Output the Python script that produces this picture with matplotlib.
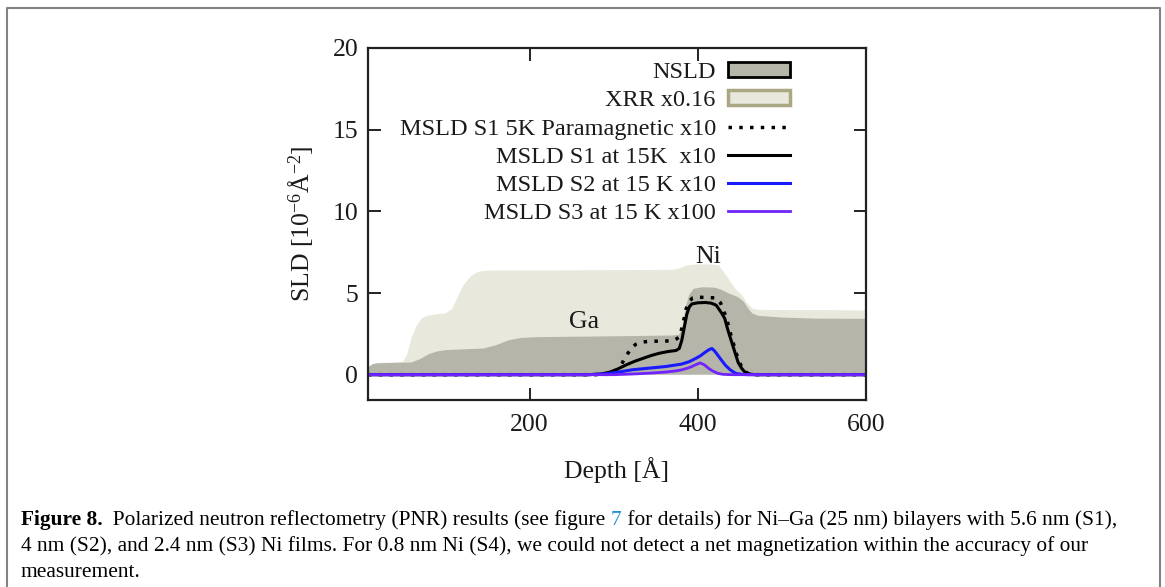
import matplotlib
matplotlib.use("Agg")
import matplotlib.pyplot as plt
from matplotlib.patches import Patch
from matplotlib.lines import Line2D

plt.rcParams['font.family'] = ['Liberation Serif', 'DejaVu Serif']
plt.rcParams['mathtext.fontset'] = 'custom'
plt.rcParams['mathtext.rm'] = 'Liberation Serif'
plt.rcParams['mathtext.it'] = 'Liberation Serif:italic'

W, H = 1165, 587

# ---------------- data ----------------
xrr_depth = [8, 14, 20, 40, 50, 55, 60, 66, 72, 78, 90, 100, 108, 115, 122, 130, 137, 145, 160,
             200, 300, 370, 378, 385, 392, 400, 415, 425, 433, 440, 445, 453, 459, 465, 472,
             520, 560, 600]
xrr_sld = [0.45, 0.65, 0.72, 0.75, 0.8, 1.3, 2.3, 3.0, 3.45, 3.6, 3.7, 3.75, 4.0, 4.8, 5.5, 6.0,
           6.25, 6.35, 6.38, 6.38, 6.4, 6.42, 6.5, 6.65, 6.72, 6.75, 6.75, 6.7, 6.15, 5.6, 5.25,
           4.85, 4.35, 4.05, 3.97, 3.95, 3.95, 3.93]

nsld_depth = [8, 14, 20, 40, 60, 70, 80, 90, 100, 120, 145, 160, 175, 190, 210, 300, 370, 378,
              382, 386, 390, 395, 405, 420, 428, 438, 448, 455, 460, 465, 472, 500, 540, 600]
nsld_sld = [0.45, 0.65, 0.7, 0.72, 0.75, 0.95, 1.25, 1.42, 1.5, 1.55, 1.6, 1.8, 2.1, 2.25, 2.3,
            2.35, 2.4, 2.45, 3.0, 4.2, 4.9, 5.25, 5.35, 5.33, 5.2, 4.95, 4.75, 4.45, 4.05, 3.75,
            3.6, 3.5, 3.43, 3.42]

para_depth = [8, 280, 295, 300, 305, 310, 315, 320, 326, 334, 345, 360, 372, 378, 382, 386, 390,
              394, 400, 410, 422, 427, 431, 435, 439, 443, 447, 451, 455, 460, 470, 600]
para_sld = [0, 0, 0.03, 0.1, 0.35, 0.7, 1.15, 1.55, 1.85, 2.0, 2.05, 2.05, 2.1, 2.3, 3.0, 4.0,
            4.5, 4.7, 4.75, 4.72, 4.7, 4.4, 3.9, 3.3, 2.5, 1.8, 1.1, 0.6, 0.25, 0.05, 0, 0]

s1_depth = [8, 270, 285, 295, 305, 315, 325, 335, 345, 355, 365, 374, 378, 381, 384, 387, 390,
            393, 400, 409, 416, 422, 428, 432, 436, 440, 444, 448, 452, 456, 462, 468, 600]
s1_sld = [0, 0, 0.04, 0.15, 0.35, 0.6, 0.82, 1.0, 1.18, 1.32, 1.42, 1.48, 1.6, 2.1, 2.9, 3.7,
          4.15, 4.33, 4.4, 4.42, 4.38, 4.25, 3.8, 3.45, 2.7, 2.05, 1.4, 0.75, 0.4, 0.16, 0.04, 0, 0]

s2_depth = [8, 270, 290, 306, 322, 342, 362, 381, 390, 397, 403, 409, 414, 417, 420, 423, 428,
            433, 439, 445, 452, 460, 600]
s2_sld = [0, 0, 0.05, 0.16, 0.3, 0.4, 0.5, 0.65, 0.8, 0.98, 1.15, 1.38, 1.55, 1.6, 1.45, 1.25,
          0.9, 0.57, 0.28, 0.08, 0.02, 0, 0]

s3_depth = [8, 300, 322, 345, 362, 375, 381, 388, 393, 398, 403, 408, 413, 418, 424, 430, 440, 600]
s3_sld = [0, 0, 0.04, 0.1, 0.16, 0.24, 0.3, 0.4, 0.5, 0.62, 0.72, 0.6, 0.38, 0.22, 0.08, 0.02, 0, 0]

x_ticks = [200, 400, 600]
y_ticks = [0, 5, 10, 15, 20]

labels = ["NSLD", "XRR x0.16", "MSLD S1 5K Paramagnetic x10", "MSLD S1 at 15K  x10",
          "MSLD S2 at 15 K x10", "MSLD S3 at 15 K x100"]

caption_line1 = [("Figure 8.", "bold", "black"),
                 ("  Polarized neutron reflectometry (PNR) results (see figure ", "normal", "black"),
                 ("7", "normal", "#1f8fd8"),
                 (" for details) for Ni\u2013Ga (25 nm) bilayers with 5.6 nm (S1),", "normal", "black")]
caption_line2 = "4 nm (S2), and 2.4 nm (S3) Ni films. For 0.8 nm Ni (S4), we could not detect a net magnetization within the accuracy of our"
caption_line3 = "measurement."

# ---------------- colours ----------------
c_nsld = '#b5b5aa'
c_xrr = '#e8e8dc'
c_xrr_edge = '#a9a883'
c_blue = '#1a1aff'
c_purple = '#7022ff'
c_txt = '#1a1a1a'

FS = 18.5      # tick labels / axis labels
FS_LEG = 17.5  # legend and annotations

fig = plt.figure(figsize=(W / 100, H / 100), dpi=100)
ax = fig.add_axes([368 / W, 1 - 400 / H, (866 - 368) / W, (400 - 48) / H])

ax.fill_between(xrr_depth, 0, xrr_sld, facecolor=c_xrr, linewidth=0, zorder=1)
ax.fill_between(nsld_depth, 0, nsld_sld, facecolor=c_nsld, linewidth=0, zorder=2)
l_para, = ax.plot(para_depth, para_sld, color='black', lw=2.5, linestyle=(0, (1, 2.1)), zorder=3)
l_s1, = ax.plot(s1_depth, s1_sld, color='black', lw=2.2, zorder=4)
l_s2, = ax.plot(s2_depth, s2_sld, color=c_blue, lw=2.2, zorder=5)
l_s3, = ax.plot(s3_depth, s3_sld, color=c_purple, lw=2.0, zorder=6)

ax.text(265, 3.25, "Ga", fontsize=FS, ha='center', va='center', zorder=7, color=c_txt)
ax.text(412, 7.2, "Ni", fontsize=FS, ha='center', va='center', zorder=7, color=c_txt)

ax.set_xlim(8, 600)
ax.set_ylim(-1.55, 20)
ax.set_xticks(x_ticks)
ax.set_yticks(y_ticks)
ax.tick_params(direction='in', top=True, right=True, length=9, width=1.4,
               labelsize=FS, color='#222222', labelcolor=c_txt)
ax.tick_params(axis='x', pad=10)
ax.tick_params(axis='y', pad=7)
for s in ax.spines.values():
    s.set_linewidth(1.6)
    s.set_color('#222222')
    s.set_zorder(10)

ax.set_xlabel("Depth [Å]", fontsize=FS, labelpad=15, color=c_txt)
ax.set_ylabel("SLD [10$^{\\mathrm{-6}}$Å$^{\\mathrm{-2}}$]", fontsize=FS, labelpad=12, color=c_txt)

h_nsld = Patch(facecolor=c_nsld, edgecolor='black', linewidth=2.0, joinstyle='round')
h_xrr = Patch(facecolor=c_xrr, edgecolor=c_xrr_edge, linewidth=2.5, joinstyle='round')
leg = ax.legend([h_nsld, h_xrr, l_para, l_s1, l_s2, l_s3], labels,
                loc='upper right', bbox_to_anchor=((790 - 368) / 498, (400 - 62) / 352),
                frameon=False, markerfirst=False, fontsize=FS_LEG, borderpad=0, borderaxespad=0,
                handlelength=2.55, handleheight=0.55, handletextpad=0.5, labelspacing=0.3)
for t in leg.get_texts():
    t.set_color(c_txt)

# ---------------- border ----------------
fig.add_artist(Line2D([7 / W, 7 / W, 1159.7 / W, 1159.7 / W], [0, 1 - 7.8 / H, 1 - 7.8 / H, 0],
                      color='#828282', lw=1.5, transform=fig.transFigure))

# ---------------- caption ----------------
fig.canvas.draw()
renderer = fig.canvas.get_renderer()

def width_of(pieces, size):
    total = 0
    for txt, weight, col in pieces:
        t = fig.text(0, 0, txt, fontsize=size, fontweight=weight)
        total += t.get_window_extent(renderer).width
        t.remove()
    return total

target = 1113 - 20.7
base = 12.0
cap_fs = base * target / width_of(caption_line1, base)

def draw_line(pieces, x0, baseline):
    x = x0
    for txt, weight, col in pieces:
        t = fig.text(x / W, 1 - baseline / H, txt, fontsize=cap_fs, fontweight=weight,
                     color=col, va='baseline', ha='left')
        x += t.get_window_extent(renderer).width

draw_line(caption_line1, 20.7, 525)
draw_line([(caption_line2, "normal", "black")], 20.7, 551)
draw_line([(caption_line3, "normal", "black")], 20.7, 577)

fig.savefig("out.png", dpi=100)
